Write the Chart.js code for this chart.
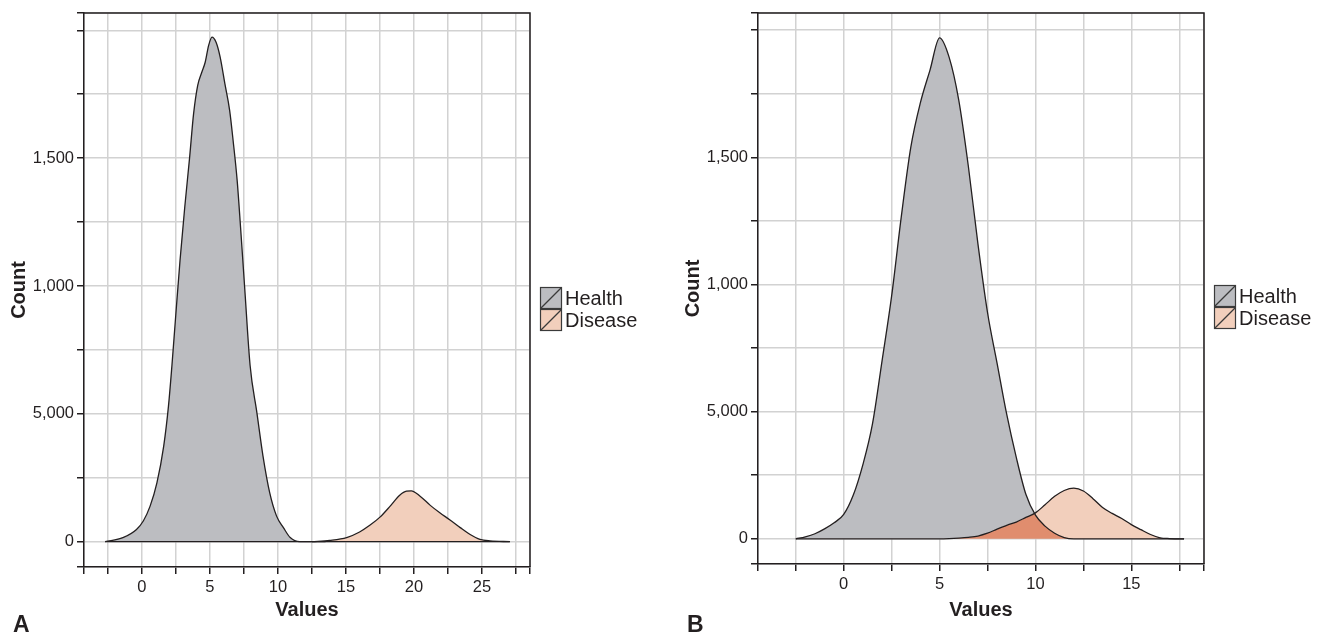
<!DOCTYPE html>
<html>
<head>
<meta charset="utf-8">
<title>Health vs Disease</title>
<script src="https://cdn.jsdelivr.net/npm/chart.js@4.4.0/dist/chart.umd.min.js"></script>
<style>
  html, body { margin: 0; padding: 0; background: #fff; }
  #wrapA { position: absolute; left: 0; top: 0; width: 662px; height: 636px; }
  #wrapB { position: absolute; left: 674px; top: 0; width: 650px; height: 636px; }
</style>
</head>
<body>
<div id="wrapA"><canvas id="chartA" width="662" height="636"></canvas></div>
<div id="wrapB"><canvas id="chartB" width="650" height="636"></canvas></div>
<script>
// series names + colours
const seriesNames = ['Health', 'Disease'];
const legendFills = ['#BCBDC1', '#F2CFBC'];
const overlapFill = '#E08D6E';
const lineColor = '#231F20';
const textColor = '#231F20';
const gridColor = '#D2D2D2';

// y axis (labels as printed in the figure)
const yTickValues = [0, 250, 500, 750, 1000, 1250, 1500, 1750, 2000];
const yTickLabels = ['0', '', '5,000', '', '1,000', '', '1,500', '', ''];

// x axis ticks
const xTickValuesA = [-2.5, 0, 2.5, 5, 7.5, 10, 12.5, 15, 17.5, 20, 22.5, 25, 27.5];
const xTickLabelsA = ['', '0', '', '5', '', '10', '', '15', '', '20', '', '25', ''];
const xTickValuesB = [-2.5, 0, 2.5, 5, 7.5, 10, 12.5, 15, 17.5];
const xTickLabelsB = ['', '0', '', '5', '', '10', '', '15', ''];

// Panel A - Health
const healthXA = [-2.7, -1.4, -0.4, 0.1, 0.6, 1.1, 1.6, 1.95, 2.2, 2.45, 2.8, 3.15, 3.5, 3.8, 4.1, 4.4, 4.65, 4.9, 5.15, 5.45, 5.75, 6.1, 6.45, 6.7, 7.0, 7.25, 7.55, 7.95, 8.45, 8.9, 9.4, 9.9, 10.4, 10.9, 11.6, 12.5, 13.5];
const healthYA = [0, 16, 48, 81, 139, 230, 374, 530, 686, 860, 1100, 1310, 1500, 1675, 1785, 1836, 1875, 1940, 1973, 1953, 1895, 1790, 1686, 1570, 1413, 1230, 996, 690, 505, 335, 190, 100, 55, 16, 0, 0, 0];

// Panel A - Disease
const diseaseXA = [12.5, 13.8, 15.05, 16.0, 16.75, 17.5, 18.25, 18.95, 19.45, 19.8, 20.45, 21.2, 21.9, 22.65, 23.4, 24.1, 24.85, 25.6, 27.05];
const diseaseYA = [0, 5, 16, 38, 64, 96, 139, 182, 198, 199, 178, 142, 113, 85, 55, 29, 9, 3, 0];

// Panel B - both series on the same x values
const valuesB = [-2.5, -2, -1.5, -1, -0.5, 0, 0.5, 1, 1.5, 2, 2.5, 3, 3.5, 4, 4.5, 5, 5.5, 6, 6.5, 7, 7.5, 8, 8.5, 9, 9.5, 10, 10.5, 11, 11.5, 12, 12.5, 13, 13.5, 14, 14.5, 15, 15.5, 16, 16.5, 17, 17.5, 17.75];
const healthB = [0, 8, 20, 39, 63, 96, 172, 292, 452, 700, 955, 1265, 1540, 1715, 1843, 1970, 1893, 1725, 1465, 1160, 890, 690, 490, 320, 175, 93, 50, 22, 5, 0, 0, 0, 0, 0, 0, 0, 0, 0, 0, 0, 0, 0];
const diseaseB = [0, 0, 0, 0, 0, 0, 0, 0, 0, 0, 0, 0, 0, 0, 0, 0, 1, 3, 6, 11, 22, 38, 53, 66, 84, 102, 134, 167, 190, 199, 188, 158, 123, 100, 80, 56, 36, 17, 4, 1, 0, 0];

const FONT = '"Liberation Sans", Arial, Helvetica, sans-serif';
Chart.defaults.font.family = FONT;
Chart.defaults.color = textColor;

function toPoints(xs, ys) {
  return xs.map((x, i) => ({ x: x, y: ys[i] }));
}

function labelFrom(values, labels) {
  return function (v) {
    const i = values.indexOf(v);
    return i >= 0 ? labels[i] : '';
  };
}

// frame, legend and panel letter
const panelDecor = {
  id: 'panelDecor',
  afterDraw(chart, args, opts) {
    const ctx = chart.ctx;
    const { left, right, top, bottom } = chart.chartArea;
    ctx.save();
    // top + right border of the plot box
    ctx.strokeStyle = lineColor;
    ctx.lineWidth = 1.5;
    ctx.beginPath();
    ctx.moveTo(left, top);
    ctx.lineTo(right, top);
    ctx.lineTo(right, bottom);
    ctx.stroke();

    // legend
    const bx = right + 10;
    const by = Math.round((top + bottom) / 2 - 3);
    seriesNames.forEach((name, i) => {
      const y0 = by + i * 22;
      ctx.fillStyle = legendFills[i];
      ctx.fillRect(bx, y0, 22, 22);
      ctx.strokeStyle = '#3A3A3A';
      ctx.lineWidth = 1.2;
      ctx.strokeRect(bx + 0.5, y0 + 0.5, 21, 21);
      ctx.beginPath();
      ctx.moveTo(bx + 1, y0 + 21);
      ctx.lineTo(bx + 21, y0 + 1);
      ctx.stroke();
      ctx.fillStyle = textColor;
      ctx.font = '20px ' + FONT;
      ctx.textBaseline = 'alphabetic';
      ctx.textAlign = 'left';
      ctx.fillText(name, bx + 25, y0 + 17.5);
    });

    // panel letter
    ctx.font = 'bold 23px ' + FONT;
    ctx.fillStyle = textColor;
    ctx.fillText(opts.letter, 13, 632);
    ctx.restore();
  }
};

function makeOptions(cfg) {
  return {
    responsive: false,
    animation: false,
    events: [],
    layout: { padding: cfg.padding },
    plugins: {
      legend: { display: false },
      tooltip: { enabled: false },
      filler: { drawTime: 'beforeDatasetsDraw' },
      panelDecor: { letter: cfg.letter }
    },
    elements: {
      point: { radius: 0 },
      line: { borderWidth: 1.3, borderColor: lineColor, cubicInterpolationMode: 'monotone' }
    },
    scales: {
      x: {
        type: 'linear',
        min: cfg.xMin,
        max: cfg.xMax,
        afterFit(scale) { scale.height = cfg.xHeight; },
        afterBuildTicks(scale) {
          scale.ticks = [scale.min].concat(cfg.xTicks, [scale.max]).map(v => ({ value: v }));
        },
        ticks: {
          autoSkip: false,
          maxRotation: 0,
          padding: 4,
          color: textColor,
          font: { size: 16.5 },
          callback: labelFrom(cfg.xTicks, cfg.xLabels)
        },
        grid: { color: gridColor, lineWidth: 1.5, tickColor: lineColor, tickLength: 7 },
        border: { display: true, color: lineColor, width: 1.5 },
        title: {
          display: true,
          text: 'Values',
          color: textColor,
          font: { size: 20, weight: 'bold' },
          padding: { top: 0, bottom: 0 }
        }
      },
      y: {
        type: 'linear',
        min: -99,
        max: 2068,
        afterFit(scale) { scale.width = 84; },
        afterBuildTicks(scale) {
          scale.ticks = [scale.min].concat(yTickValues, [scale.max]).map(v => ({ value: v }));
        },
        ticks: {
          autoSkip: false,
          padding: 3,
          color: textColor,
          font: { size: 16.5 },
          callback: labelFrom(yTickValues, yTickLabels)
        },
        grid: { color: gridColor, lineWidth: 1.5, tickColor: lineColor, tickLength: 7 },
        border: { display: true, color: lineColor, width: 1.5 },
        title: {
          display: true,
          text: 'Count',
          color: textColor,
          font: { size: 20, weight: 'bold' },
          padding: { top: 7, bottom: 0 }
        }
      }
    }
  };
}

// Panel A
new Chart(document.getElementById('chartA').getContext('2d'), {
  type: 'line',
  data: {
    datasets: [
      {
        label: seriesNames[0],
        data: toPoints(healthXA, healthYA),
        backgroundColor: legendFills[0],
        fill: 'origin'
      },
      {
        label: seriesNames[1],
        data: toPoints(diseaseXA, diseaseYA),
        backgroundColor: legendFills[1],
        fill: 'origin'
      },
      {
        // outline along the bottom of both areas
        label: 'baseline',
        data: [
          { x: healthXA[0], y: 0 },
          { x: diseaseXA[diseaseXA.length - 1], y: 0 }
        ],
        fill: false
      }
    ]
  },
  options: makeOptions({
    letter: 'A',
    padding: { top: 12, right: 132, bottom: 14, left: 0 },
    xMin: -4.26, xMax: 28.53, xHeight: 55,
    xTicks: xTickValuesA, xLabels: xTickLabelsA
  }),
  plugins: [panelDecor]
});

// Panel B: disease filled dark to zero, health fill between the two curves
new Chart(document.getElementById('chartB').getContext('2d'), {
  type: 'line',
  data: {
    datasets: [
      {
        label: seriesNames[0],
        data: toPoints(valuesB, healthB),
        fill: { target: 1, above: legendFills[0], below: legendFills[1] }
      },
      {
        label: seriesNames[1],
        data: toPoints(valuesB, diseaseB),
        backgroundColor: overlapFill,
        fill: 'origin'
      }
    ]
  },
  options: makeOptions({
    letter: 'B',
    padding: { top: 9, right: 120, bottom: 14, left: 0 },
    xMin: -4.47, xMax: 18.79, xHeight: 58,
    xTicks: xTickValuesB, xLabels: xTickLabelsB
  }),
  plugins: [panelDecor]
});
</script>
</body>
</html>
